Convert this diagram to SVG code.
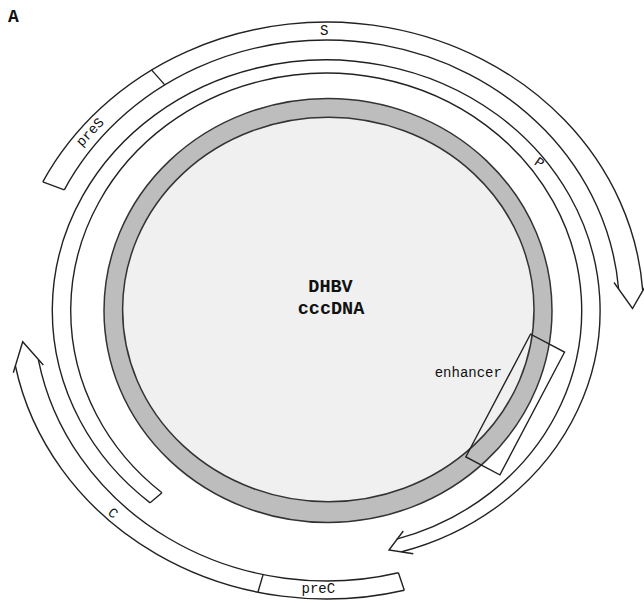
<svg xmlns="http://www.w3.org/2000/svg" width="644" height="603" viewBox="0 0 644 603">
<style>
.ln{fill:none;stroke:#222;stroke-width:1.4;stroke-linejoin:miter}
.lbl{font-family:"Liberation Mono","Courier New",monospace;font-size:14px;fill:#111}
.big{font-family:"Liberation Mono","Courier New",monospace;font-weight:bold;fill:#111}
</style>
<rect width="644" height="603" fill="#ffffff"/>
<text class="big" x="8" y="22" font-size="18">A</text>
<g id="cccDNA">
<ellipse cx="328" cy="310.5" rx="224" ry="212" fill="#bdbdbd" stroke="#333" stroke-width="1.5"/>
<ellipse cx="328.3" cy="309.5" rx="205.7" ry="192.2" fill="#f0f0f0" stroke="#333" stroke-width="1.5"/>
<text class="big" font-size="18.5" x="330.5" y="291.5" text-anchor="middle">DHBV</text>
<text class="big" font-size="18.5" x="331" y="314" text-anchor="middle">cccDNA</text>
</g>
<g id="enhancer">
<rect class="ln" x="-19.25" y="-69.35" width="38.5" height="138.7" transform="translate(515.2,404.5) rotate(27.8)"/>
<text class="lbl" x="468.3" y="377" text-anchor="middle" font-size="14.5">enhancer</text>
</g>
<g id="connectors">
<g id="S">
<path class="ln" d="M42.8 181.8 A317 288.5 0 0 1 642.7 290.4"/>
<path class="ln" d="M64.3 189.8 A293 270.5 0 0 1 618.6 288.8"/>
<path class="ln" d="M42.8 181.8 L64.3 189.8"/>
<path class="ln" d="M151.5 69.9 L164.8 84.9"/>
<path class="ln" d="M614 282.5 L632.5 308.5 L648.3 281"/>
<text class="lbl" x="324.3" y="35" text-anchor="middle">S</text>
<text class="lbl" x="0" y="4.5" text-anchor="middle" transform="translate(90,132) rotate(-47)">preS</text>
</g>
<g id="P">
<path class="ln" d="M150.14 502.83 A273.9 250.8 0 1 1 401.7 551.78"/>
<path class="ln" d="M161.97 492.71 A255.5 237.6 0 1 1 396.63 539.1"/>
<path class="ln" d="M150.14 502.83 L161.97 492.71"/>
<path class="ln" d="M403.3 531 L389 550 L413.3 553.7"/>
<text class="lbl" x="0" y="4.5" text-anchor="middle" transform="translate(539.5,162.5) rotate(35)">P</text>
</g>
<g id="C">
<path class="ln" d="M404.3 590.2 A317 288.5 0 0 1 15.3 365.5"/>
<path class="ln" d="M398.4 572.7 A293 270.5 0 0 1 38.4 359.8"/>
<path class="ln" d="M398.4 572.7 L404.3 590.2"/>
<path class="ln" d="M263.1 574.6 L257.9 592.2"/>
<path class="ln" d="M13.3 372.7 L22.7 341.7 L43.3 365"/>
<text class="lbl" x="0" y="4.5" text-anchor="middle" transform="translate(113,513) rotate(40)">C</text>
<text class="lbl" x="318.3" y="593" text-anchor="middle">preC</text>
</g>
</g>
</svg>
